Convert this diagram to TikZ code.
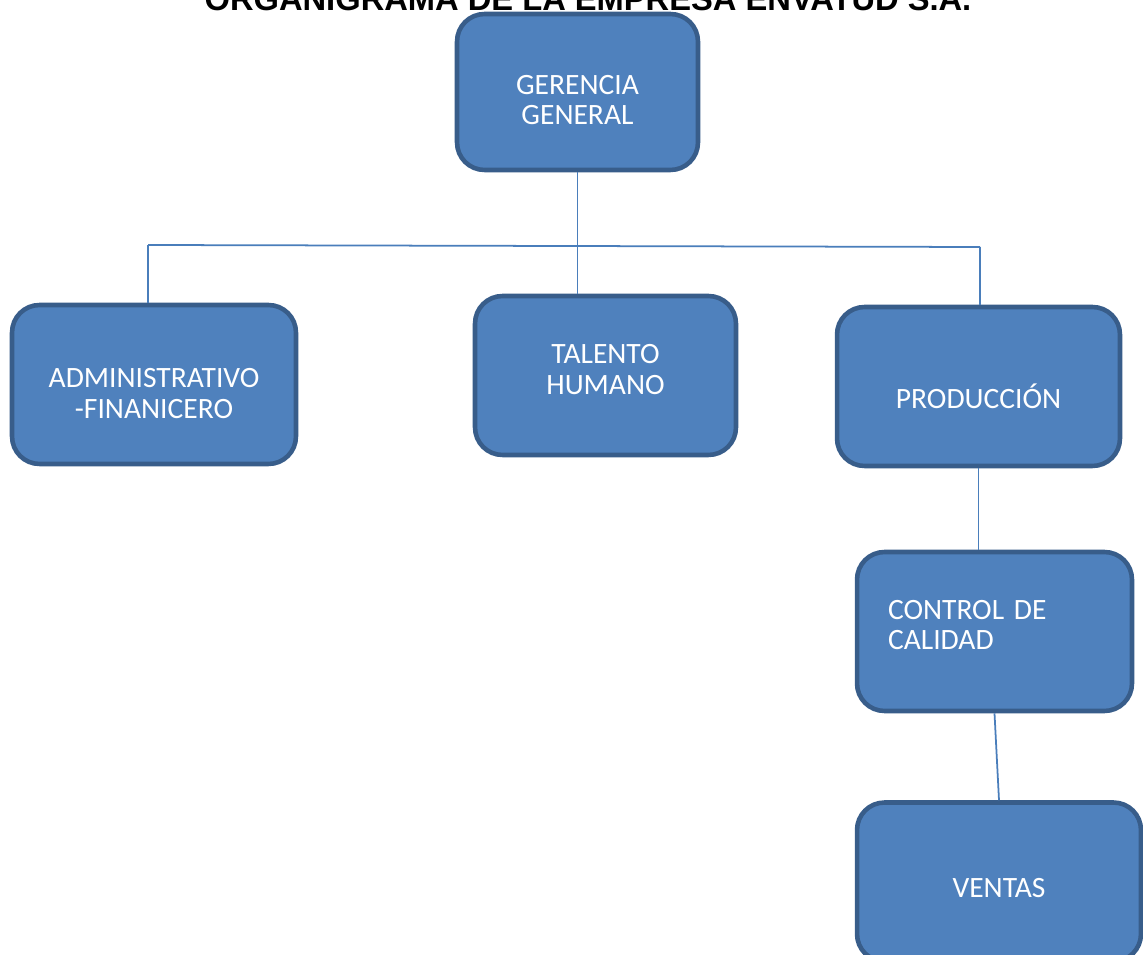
\documentclass[tikz,border=0pt]{standalone}
\usepackage{fontspec}
\setmainfont{Carlito}
\newfontfamily\headfont{Liberation Sans}
\usepackage{tikz}
\usetikzlibrary{positioning}
\definecolor{OrgFill}{HTML}{4F81BD}
\definecolor{OrgEdge}{HTML}{385D8A}
\definecolor{OrgLine}{HTML}{4A7EBB}

\begin{document}
\begin{tikzpicture}[
  x=0.02cm,y=-0.02cm,
  unit/.style={draw=OrgEdge,line width=2.6pt,fill=OrgFill,rounded corners=0.55cm,
    minimum height=3.18cm},
  txt/.style={text=white,align=center,inner sep=0pt,
    font=\fontsize{16.8}{17.2}\selectfont},
  link/.style={draw=OrgLine,line width=1pt}
]
  \clip (0,0) rectangle (1143,955);
  \fill[white] (0,0) rectangle (1143,955);
  % titulo (cortado arriba)
  \node[anchor=base,inner sep=0pt,font=\headfont\bfseries\fontsize{18.6}{20}\selectfont]
    (title) at (588,11) {ORGANIGRAMA DE LA EMPRESA ENVATUD S.A.};
  % unidades
  \node[unit,minimum width=4.82cm,minimum height=3.12cm,
    label={[txt,yshift=-0.16cm]center:GERENCIA\\GENERAL}] (ger) at (577.5,92) {};
  \node[unit,minimum width=5.68cm,
    label={[txt,yshift=-0.18cm]center:ADMINISTRATIVO\\-FINANICERO}] (adm) at (154,384.5) {};
  \node[unit,minimum width=5.22cm,
    label={[txt,yshift=0.12cm]center:TALENTO\\HUMANO}] (tal) at (605.5,375.5) {};
  \node[unit,minimum width=5.66cm,
    label={[txt,yshift=-0.19cm]center:PRODUCCIÓN}] (prod) at (978.5,386.5) {};
  \node[unit,minimum width=5.5cm,
    label={[txt,text width=4.26cm,align=left,yshift=0.13cm]center:CONTROL DE\\CALIDAD}] (ctrl) at (994.5,631.5) {};
  \node[unit,minimum width=5.68cm,
    label={[txt,yshift=-0.12cm]center:VENTAS}] (ven) at (999,882) {};
  % lineas
  \coordinate (barL) at (148,245);
  \coordinate (barR) at (980,247);
  \draw[link] (ger.south) -- (ger.south |- tal.north);
  \draw[link] (barL) -- (barR);
  \draw[link] (barL) -- (barL |- adm.north);
  \draw[link] (barR) -- (barR |- prod.north);
  \draw[link] (prod.south) -- (prod.south |- ctrl.north);
  \draw[link] (ctrl.south) -- (ven.north);
\end{tikzpicture}
\end{document}
